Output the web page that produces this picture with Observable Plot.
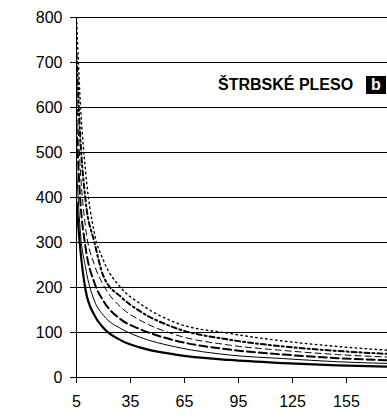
<!DOCTYPE html>
<html><head><meta charset="utf-8">
<script src="https://cdn.jsdelivr.net/npm/d3@7"></script>
<script src="https://cdn.jsdelivr.net/npm/@observablehq/plot@0.6"></script>
<style>
body{margin:0;background:#fff;}
#wrap{position:relative;width:387px;height:419px;font-family:"Liberation Sans",Arial,sans-serif;overflow:hidden;}
#title{position:absolute;left:218px;top:76px;font-weight:bold;font-size:16px;line-height:18px;white-space:nowrap;color:#000;}
#badge{position:absolute;left:366px;top:76px;width:20px;height:18px;background:#000;color:#fff;font-weight:bold;font-size:16px;line-height:18px;text-align:center;}
</style></head><body>
<div id="wrap"><div id="chart"></div><div id="title">ŠTRBSKÉ PLESO</div><div id="badge">b</div></div>
<script>
// durations (min)
const durations = [5, 7, 10, 15, 20, 30, 40, 60, 90, 120, 150, 180];
// rainfall intensity curves (bottom to top)
const curveA = [390, 290, 195, 138, 110, 82, 67, 51, 39, 32, 27, 24];
const curveB = [470, 330, 245, 170, 138, 108, 90, 68, 50, 42, 35, 31];
const curveC = [560, 400, 290, 210, 170, 128, 108, 82, 62, 51, 43, 38];
const curveD = [640, 470, 335, 250, 205, 155, 128, 95, 72, 60, 51, 45];
const curveE = [720, 540, 395, 300, 225, 178, 148, 110, 84, 69, 59, 52];
const curveF = [800, 620, 460, 320, 260, 198, 165, 122, 98, 81, 69, 60];
const seriesNames = ["A", "B", "C", "D", "E", "F"];
const yTicks = [0, 100, 200, 300, 400, 500, 600, 700, 800];
const xTicks = [5, 35, 65, 95, 125, 155];

const seriesValues = [curveA, curveB, curveC, curveD, curveE, curveF];
const styles = {
  A: {strokeWidth: 2.2, strokeDasharray: null},
  B: {strokeWidth: 1, strokeDasharray: null},
  C: {strokeWidth: 2, strokeDasharray: "8,4"},
  D: {strokeWidth: 1, strokeDasharray: "6,4"},
  E: {strokeWidth: 2, strokeDasharray: "5,3,2,3"},
  F: {strokeWidth: 1.4, strokeDasharray: "1.5,3.5"}
};
const rows = [];
seriesNames.forEach((s, k) => durations.forEach((d, i) => rows.push({s, d, v: seriesValues[k][i]})));

const lineMarks = seriesNames.map(s => Plot.line(rows.filter(r => r.s === s), {
  x: "d", y: "v", curve: "monotone-x", stroke: "#000",
  strokeWidth: styles[s].strokeWidth,
  strokeDasharray: styles[s].strokeDasharray,
  clip: true
}));

const chart = Plot.plot({
  width: 387, height: 419,
  marginLeft: 76, marginRight: 0, marginTop: 17, marginBottom: 42,
  x: {domain: [5, 177.8]},
  y: {domain: [0, 800]},
  style: {fontFamily: '"Liberation Sans", Arial, sans-serif', fontSize: "16px", color: "#000", background: "#fff", overflow: "visible"},
  marks: [
    Plot.ruleY(yTicks, {stroke: "#000", strokeWidth: 1}),
    Plot.ruleX([5], {stroke: "#000", strokeWidth: 1}),
    Plot.axisY({ticks: yTicks, tickSize: 6, tickPadding: 8, label: null, fontSize: 16}),
    Plot.axisX({ticks: xTicks, tickSize: 6, tickPadding: 12, label: null, fontSize: 16}),
    ...lineMarks
  ]
});
document.getElementById("chart").appendChild(chart);
</script>
</body></html>
